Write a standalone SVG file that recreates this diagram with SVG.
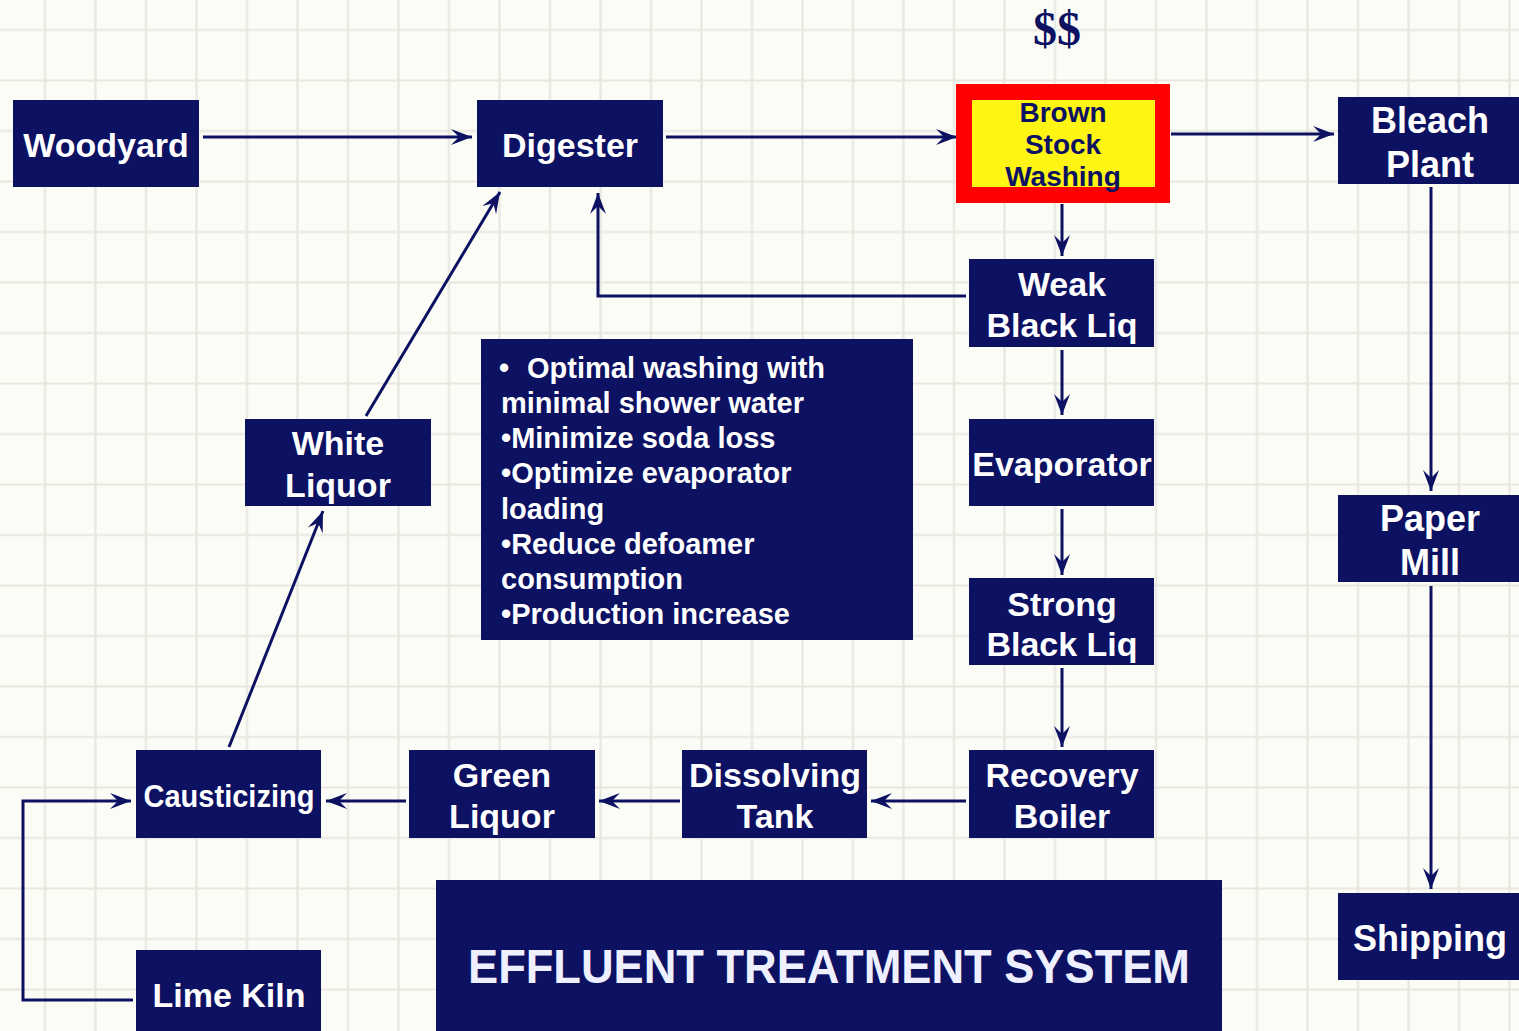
<svg xmlns="http://www.w3.org/2000/svg" width="1519" height="1031" viewBox="0 0 1519 1031">
  <defs>
    <pattern id="grid" x="19.75" y="4.75" width="50.5" height="50.5" patternUnits="userSpaceOnUse">
      <path d="M25.25 0V50.5M0 25.25H50.5" stroke="#e7e7e0" stroke-width="2.2" fill="none"/>
    </pattern>
    <marker id="arrow" markerUnits="userSpaceOnUse" viewBox="-22 -10 24 20" markerWidth="24" markerHeight="20" refX="0" refY="0" orient="auto">
      <path d="M0 0L-21 -8L-13 0L-21 8Z" fill="#0c1162"/>
    </marker>
    <style>
      .box { fill: #0c1162; }
      .lbl { font-family: "Liberation Sans", Arial, sans-serif; font-weight: bold; font-size: 34px; fill: #ffffff; text-anchor: middle; }
      .lbl36 { font-size: 36px; }
      .dark { fill: #0c1162; font-size: 28px; }
      .narrow { font-size: 31px; }
      .banner { font-size: 48px; fill: #eef0ff; }
      .note { font-family: "Liberation Sans", Arial, sans-serif; font-weight: bold; font-size: 29px; fill: #ffffff; }
      .conn { fill: none; stroke: #0c1162; stroke-width: 3; }
    </style>
  </defs>

  <!-- paper background with grid -->
  <rect width="1519" height="1031" fill="#fcfcf7"/>
  <rect width="1519" height="1031" fill="url(#grid)"/>

  <!-- cost marker -->
  <text x="1057" y="45" font-family="Liberation Serif, 'Times New Roman', serif" font-weight="bold" font-size="48" fill="#0c1162" text-anchor="middle">$$</text>

  <!-- connectors -->
  <g id="connectors" class="conn" marker-end="url(#arrow)">
    <path d="M203 137H472"/>
    <path d="M666 137H957"/>
    <path d="M1171 134H1334"/>
    <path d="M1062 204V256"/>
    <path d="M966 296H598V193"/>
    <path d="M1062 350V415"/>
    <path d="M1062 509V575"/>
    <path d="M1062 668V747"/>
    <path d="M966 801H871"/>
    <path d="M680 801H599"/>
    <path d="M406 801H326"/>
    <path d="M133 1000H23V801H131"/>
    <path d="M229 747L323 511"/>
    <path d="M366 416L500 192"/>
    <path d="M1431 187V491"/>
    <path d="M1431 586V889"/>
  </g>

  <!-- process nodes -->
  <g id="woodyard">
    <rect class="box" x="13" y="100" width="186" height="87"/>
    <text class="lbl" x="106" y="157">Woodyard</text>
  </g>
  <g id="digester">
    <rect class="box" x="477" y="100" width="186" height="87"/>
    <text class="lbl" x="570" y="157">Digester</text>
  </g>
  <g id="brown-stock-washing">
    <rect x="956" y="84" width="214" height="119" fill="#ff0000"/>
    <rect x="972" y="100" width="183" height="87" fill="#fff514"/>
    <text class="lbl dark" x="1063" y="122">Brown</text>
    <text class="lbl dark" x="1063" y="154">Stock</text>
    <text class="lbl dark" x="1063" y="186">Washing</text>
  </g>
  <g id="bleach-plant">
    <rect class="box" x="1338" y="97" width="190" height="87"/>
    <text class="lbl lbl36" x="1430" y="133">Bleach</text>
    <text class="lbl lbl36" x="1430" y="177">Plant</text>
  </g>
  <g id="weak-black-liq">
    <rect class="box" x="969" y="259" width="185" height="88"/>
    <text class="lbl" x="1062" y="296">Weak</text>
    <text class="lbl" x="1062" y="337">Black Liq</text>
  </g>
  <g id="evaporator">
    <rect class="box" x="969" y="419" width="185" height="87"/>
    <text class="lbl" x="1062" y="476">Evaporator</text>
  </g>
  <g id="strong-black-liq">
    <rect class="box" x="969" y="578" width="185" height="87"/>
    <text class="lbl" x="1062" y="616">Strong</text>
    <text class="lbl" x="1062" y="656">Black Liq</text>
  </g>
  <g id="recovery-boiler">
    <rect class="box" x="969" y="750" width="185" height="88"/>
    <text class="lbl" x="1062" y="787">Recovery</text>
    <text class="lbl" x="1062" y="828">Boiler</text>
  </g>
  <g id="dissolving-tank">
    <rect class="box" x="682" y="750" width="185" height="88"/>
    <text class="lbl" x="775" y="787">Dissolving</text>
    <text class="lbl" x="775" y="828">Tank</text>
  </g>
  <g id="green-liquor">
    <rect class="box" x="409" y="750" width="186" height="88"/>
    <text class="lbl" x="502" y="787">Green</text>
    <text class="lbl" x="502" y="828">Liquor</text>
  </g>
  <g id="causticizing">
    <rect class="box" x="136" y="750" width="185" height="88"/>
    <text class="lbl narrow" x="229" y="807" textLength="171" lengthAdjust="spacingAndGlyphs">Causticizing</text>
  </g>
  <g id="lime-kiln">
    <rect class="box" x="136" y="950" width="185" height="90"/>
    <text class="lbl" x="229" y="1007">Lime Kiln</text>
  </g>
  <g id="white-liquor">
    <rect class="box" x="245" y="419" width="186" height="87"/>
    <text class="lbl" x="338" y="455">White</text>
    <text class="lbl" x="338" y="497">Liquor</text>
  </g>
  <g id="paper-mill">
    <rect class="box" x="1338" y="495" width="190" height="87"/>
    <text class="lbl lbl36" x="1430" y="531">Paper</text>
    <text class="lbl lbl36" x="1430" y="575">Mill</text>
  </g>
  <g id="shipping">
    <rect class="box" x="1338" y="893" width="190" height="87"/>
    <text class="lbl lbl36" x="1430" y="951">Shipping</text>
  </g>

  <!-- benefits list -->
  <g id="benefits">
    <rect class="box" x="481" y="339" width="432" height="301"/>
    <text class="note" x="499" y="378">•</text>
    <text class="note" x="527" y="378">Optimal washing with</text>
    <text class="note" x="501" y="413">minimal shower water</text>
    <text class="note" x="501" y="448">•Minimize soda loss</text>
    <text class="note" x="501" y="483">•Optimize evaporator</text>
    <text class="note" x="501" y="519">loading</text>
    <text class="note" x="501" y="554">•Reduce defoamer</text>
    <text class="note" x="501" y="589">consumption</text>
    <text class="note" x="501" y="624">•Production increase</text>
  </g>

  <!-- effluent treatment -->
  <g id="effluent-treatment">
    <rect class="box" x="436" y="880" width="786" height="160"/>
    <text class="lbl banner" x="829" y="983" textLength="722" lengthAdjust="spacingAndGlyphs">EFFLUENT TREATMENT SYSTEM</text>
  </g>
</svg>
